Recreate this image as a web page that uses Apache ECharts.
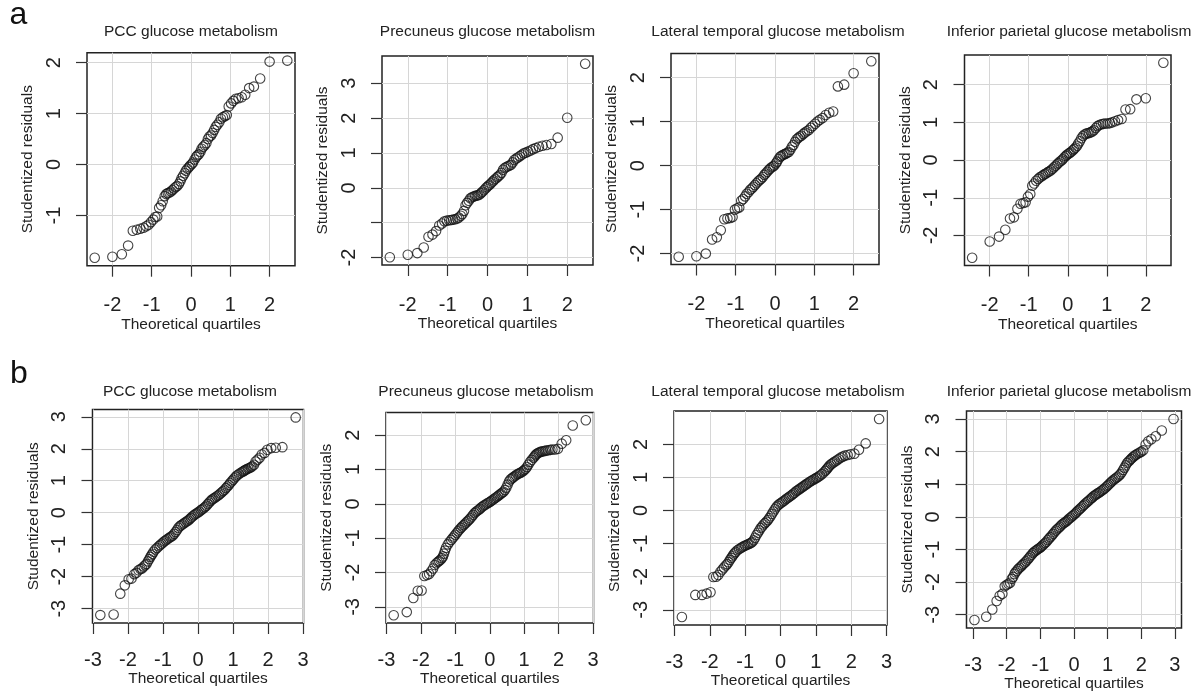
<!DOCTYPE html>
<html>
<head>
<meta charset="utf-8">
<script src="https://cdn.jsdelivr.net/npm/echarts@6.0.0/dist/echarts.min.js"></script>
<style>
  html, body { margin: 0; padding: 0; background: #fff; }
  #chart { width: 1202px; height: 693px; }
</style>
</head>
<body>
<div id="chart"></div>
<script>
// ---- data ----
// row a: theoretical quartiles (shared by the four panels)
const qA = [-2.45, -2.0, -1.76, -1.6, -1.48, -1.38, -1.29, -1.21, -1.14, -1.08, -1.02, -0.96, -0.91, -0.86, -0.81, -0.76, -0.72, -0.67, -0.63, -0.59, -0.55, -0.51, -0.47, -0.43, -0.39, -0.35, -0.31, -0.27, -0.24, -0.2, -0.16, -0.13, -0.09, -0.05, -0.02,
  0.02, 0.05, 0.09, 0.13, 0.16, 0.2, 0.24, 0.27, 0.31, 0.35, 0.39, 0.43, 0.47, 0.51, 0.55, 0.59, 0.63, 0.67, 0.72, 0.76, 0.81, 0.86, 0.91, 0.96, 1.02, 1.08, 1.14, 1.21, 1.29, 1.38, 1.48, 1.6, 1.76, 2.0, 2.45];
// row a: studentized residuals
const pccA = [-1.83, -1.81, -1.76, -1.59, -1.30, -1.28, -1.26, -1.24, -1.21, -1.18, -1.13, -1.08, -1.03, -1.02, -0.85, -0.80, -0.72, -0.62, -0.58, -0.56, -0.55, -0.53, -0.50, -0.47, -0.44, -0.42, -0.38, -0.33, -0.27, -0.22, -0.17, -0.12, -0.08, -0.05, -0.02,
  0.01, 0.04, 0.10, 0.15, 0.18, 0.20, 0.25, 0.31, 0.35, 0.38, 0.42, 0.50, 0.55, 0.57, 0.62, 0.68, 0.74, 0.78, 0.83, 0.90, 0.93, 0.95, 0.97, 1.14, 1.20, 1.25, 1.29, 1.30, 1.32, 1.37, 1.50, 1.53, 1.69, 2.02, 2.04];
const precA = [-1.99, -1.92, -1.87, -1.71, -1.40, -1.34, -1.24, -1.08, -1.02, -0.96, -0.94, -0.93, -0.92, -0.91, -0.90, -0.88, -0.85, -0.80, -0.75, -0.66, -0.50, -0.43, -0.37, -0.30, -0.27, -0.25, -0.23, -0.22, -0.21, -0.19, -0.15, -0.11, -0.07, -0.02, 0.02,
  0.06, 0.09, 0.13, 0.18, 0.22, 0.26, 0.30, 0.33, 0.37, 0.43, 0.52, 0.57, 0.60, 0.62, 0.64, 0.66, 0.73, 0.80, 0.84, 0.87, 0.91, 0.95, 0.99, 1.01, 1.04, 1.07, 1.11, 1.14, 1.18, 1.21, 1.23, 1.26, 1.44, 2.01, 3.56];
const latA = [-2.07, -2.06, -2.00, -1.68, -1.63, -1.47, -1.22, -1.20, -1.19, -1.17, -1.00, -0.97, -0.95, -0.80, -0.76, -0.70, -0.64, -0.60, -0.55, -0.52, -0.48, -0.44, -0.40, -0.36, -0.33, -0.30, -0.26, -0.21, -0.18, -0.14, -0.10, -0.07, -0.04, -0.02, 0.00,
  0.05, 0.09, 0.15, 0.20, 0.22, 0.24, 0.26, 0.27, 0.29, 0.31, 0.36, 0.43, 0.47, 0.54, 0.60, 0.63, 0.66, 0.68, 0.72, 0.75, 0.78, 0.81, 0.86, 0.90, 0.95, 1.00, 1.04, 1.08, 1.15, 1.20, 1.23, 1.80, 1.84, 2.10, 2.37];
const infA = [-2.59, -2.16, -2.03, -1.85, -1.55, -1.52, -1.29, -1.16, -1.14, -1.12, -0.97, -0.90, -0.68, -0.62, -0.55, -0.50, -0.46, -0.43, -0.40, -0.37, -0.35, -0.32, -0.30, -0.27, -0.23, -0.19, -0.15, -0.11, -0.08, -0.04, -0.01, 0.02, 0.07, 0.11, 0.14,
  0.17, 0.19, 0.22, 0.26, 0.29, 0.33, 0.38, 0.44, 0.50, 0.58, 0.64, 0.68, 0.70, 0.71, 0.72, 0.74, 0.76, 0.79, 0.85, 0.90, 0.93, 0.95, 0.96, 0.97, 0.97, 0.98, 1.00, 1.03, 1.06, 1.09, 1.34, 1.35, 1.61, 1.64, 2.58];

// row b: theoretical quartiles for the first three panels
const qB = [-2.79, -2.41, -2.22, -2.09, -1.98, -1.9, -1.82, -1.76, -1.7, -1.645, -1.6, -1.55, -1.51, -1.47, -1.43, -1.39, -1.36, -1.33, -1.3, -1.27, -1.22, -1.17, -1.12, -1.08, -1.04, -1.0, -0.96, -0.92, -0.88, -0.84, -0.8, -0.76, -0.72, -0.68, -0.64, -0.6, -0.56, -0.52, -0.48, -0.44, -0.4, -0.36, -0.32, -0.28, -0.24, -0.2, -0.16, -0.12, -0.08, -0.04,
  0,
  0.04, 0.08, 0.12, 0.16, 0.2, 0.24, 0.28, 0.32, 0.36, 0.4, 0.44, 0.48, 0.52, 0.56, 0.6, 0.64, 0.68, 0.72, 0.76, 0.8, 0.84, 0.88, 0.92, 0.96, 1.0, 1.04, 1.08, 1.12, 1.17, 1.22, 1.27, 1.3, 1.33, 1.36, 1.39, 1.43, 1.47, 1.51, 1.55, 1.6, 1.645, 1.7, 1.76, 1.82, 1.9, 1.98, 2.09, 2.22, 2.41, 2.79];
const pccB = [-3.20, -3.18, -2.53, -2.27, -2.08, -2.06, -1.92, -1.88, -1.80, -1.76, -1.74, -1.68, -1.64, -1.60, -1.52, -1.45, -1.38, -1.33, -1.28, -1.22, -1.15, -1.10, -1.05, -1.01, -0.97, -0.93, -0.89, -0.86, -0.83, -0.80, -0.77, -0.74, -0.71, -0.66, -0.60, -0.54, -0.47, -0.42, -0.39, -0.36, -0.33, -0.30, -0.27, -0.24, -0.20, -0.16, -0.12, -0.08, -0.05, -0.02,
  0.01,
  0.04, 0.08, 0.11, 0.14, 0.18, 0.22, 0.27, 0.32, 0.37, 0.41, 0.44, 0.47, 0.50, 0.53, 0.56, 0.60, 0.64, 0.68, 0.72, 0.77, 0.82, 0.87, 0.93, 0.98, 1.03, 1.08, 1.13, 1.17, 1.21, 1.25, 1.28, 1.30, 1.32, 1.34, 1.36, 1.38, 1.40, 1.42, 1.45, 1.50, 1.60, 1.66, 1.72, 1.82, 1.87, 1.97, 2.02, 2.03, 2.05, 2.98];
const precB = [-3.24, -3.15, -2.74, -2.53, -2.52, -2.10, -2.07, -2.04, -1.96, -1.88, -1.78, -1.73, -1.69, -1.66, -1.63, -1.58, -1.53, -1.45, -1.36, -1.28, -1.18, -1.11, -1.05, -1.00, -0.95, -0.90, -0.85, -0.80, -0.75, -0.70, -0.66, -0.62, -0.58, -0.54, -0.50, -0.46, -0.42, -0.37, -0.32, -0.27, -0.23, -0.20, -0.17, -0.14, -0.10, -0.07, -0.04, -0.02, 0.01, 0.03,
  0.05,
  0.08, 0.11, 0.14, 0.17, 0.20, 0.23, 0.26, 0.29, 0.32, 0.35, 0.40, 0.47, 0.56, 0.65, 0.71, 0.74, 0.77, 0.80, 0.83, 0.86, 0.88, 0.90, 0.92, 0.95, 0.98, 1.02, 1.07, 1.14, 1.22, 1.28, 1.34, 1.38, 1.42, 1.45, 1.47, 1.49, 1.51, 1.52, 1.53, 1.54, 1.55, 1.56, 1.57, 1.58, 1.58, 1.60, 1.75, 1.85, 2.28, 2.43];
const latB = [-3.22, -2.55, -2.55, -2.51, -2.47, -2.01, -2.00, -1.95, -1.85, -1.78, -1.72, -1.66, -1.62, -1.56, -1.49, -1.43, -1.38, -1.33, -1.29, -1.25, -1.20, -1.16, -1.13, -1.10, -1.08, -1.06, -1.04, -1.02, -1.00, -0.98, -0.95, -0.90, -0.82, -0.74, -0.67, -0.60, -0.53, -0.48, -0.42, -0.38, -0.34, -0.29, -0.23, -0.17, -0.10, -0.03, 0.04, 0.10, 0.15, 0.19,
  0.22,
  0.25, 0.28, 0.31, 0.35, 0.38, 0.41, 0.44, 0.47, 0.51, 0.54, 0.58, 0.61, 0.64, 0.67, 0.70, 0.73, 0.76, 0.79, 0.82, 0.85, 0.88, 0.90, 0.93, 0.95, 0.98, 1.00, 1.03, 1.06, 1.10, 1.15, 1.20, 1.24, 1.28, 1.32, 1.36, 1.40, 1.43, 1.46, 1.49, 1.52, 1.56, 1.60, 1.63, 1.66, 1.68, 1.70, 1.72, 1.84, 2.03, 2.77];

// row b, inferior parietal: larger sample, its own quartiles
const qB4 = [-2.96, -2.61, -2.43, -2.3, -2.21, -2.13, -2.06, -2.0, -1.95, -1.9, -1.85, -1.81, -1.77, -1.74, -1.7, -1.66, -1.62, -1.58, -1.54, -1.5, -1.46, -1.42, -1.38, -1.34, -1.3, -1.26, -1.22, -1.18, -1.14, -1.1, -1.06, -1.02, -0.98, -0.94, -0.9, -0.86, -0.82, -0.78, -0.74, -0.7, -0.66, -0.62, -0.58, -0.54, -0.5, -0.46, -0.42, -0.38, -0.34, -0.3, -0.26, -0.22, -0.18, -0.14, -0.1, -0.06, -0.02,
  0.02, 0.06, 0.1, 0.14, 0.18, 0.22, 0.26, 0.3, 0.34, 0.38, 0.42, 0.46, 0.5, 0.54, 0.58, 0.62, 0.66, 0.7, 0.74, 0.78, 0.82, 0.86, 0.9, 0.94, 0.98, 1.02, 1.06, 1.1, 1.14, 1.18, 1.22, 1.26, 1.3, 1.34, 1.38, 1.42, 1.46, 1.5, 1.54, 1.58, 1.62, 1.66, 1.7, 1.74, 1.77, 1.81, 1.85, 1.9, 1.95, 2.0, 2.06, 2.13, 2.21, 2.3, 2.43, 2.61, 2.96];
const infB = [-3.16, -3.06, -2.84, -2.58, -2.42, -2.36, -2.13, -2.08, -2.05, -2.02, -1.90, -1.84, -1.75, -1.70, -1.65, -1.60, -1.56, -1.52, -1.48, -1.44, -1.40, -1.36, -1.31, -1.26, -1.21, -1.16, -1.11, -1.07, -1.04, -1.01, -0.98, -0.95, -0.92, -0.88, -0.84, -0.80, -0.76, -0.71, -0.66, -0.62, -0.57, -0.52, -0.47, -0.42, -0.38, -0.34, -0.30, -0.26, -0.22, -0.19, -0.16, -0.13, -0.09, -0.05, -0.02, 0.02, 0.05,
  0.09, 0.13, 0.17, 0.21, 0.25, 0.29, 0.33, 0.37, 0.41, 0.45, 0.48, 0.52, 0.56, 0.59, 0.63, 0.66, 0.69, 0.72, 0.74, 0.77, 0.80, 0.83, 0.86, 0.90, 0.94, 0.98, 1.02, 1.06, 1.10, 1.14, 1.17, 1.20, 1.23, 1.27, 1.31, 1.37, 1.44, 1.51, 1.58, 1.65, 1.70, 1.74, 1.78, 1.82, 1.85, 1.88, 1.91, 1.94, 1.97, 2.00, 2.04, 2.22, 2.32, 2.38, 2.47, 2.65, 3.00];

const titles = ['PCC glucose metabolism', 'Precuneus glucose metabolism',
  'Lateral temporal glucose metabolism', 'Inferior parietal glucose metabolism'];
const xTicksA = [-2, -1, 0, 1, 2];
const xTicksB = [-3, -2, -1, 0, 1, 2, 3];

// ---- layout (pixels) ----
const FONT = '"Liberation Sans", Arial, Helvetica, sans-serif';
const INK = '#222';

const panels = [
  // row a
  { box: [87, 52.7, 208, 213], tx: 191, ty: 32, q: qA, r: pccA, title: 0, xt: xTicksA, yt: [-1, 0, 1, 2], yl: [-1, 0, 1, 2], row: 'a' },
  { box: [382, 56, 211, 209], tx: 487.5, ty: 32, q: qA, r: precA, title: 1, xt: xTicksA, yt: [-2, -1, 0, 1, 2, 3], yl: [-2, 0, 1, 2, 3], row: 'a' },
  { box: [671, 53.5, 208, 211], tx: 778, ty: 32, q: qA, r: latA, title: 2, xt: xTicksA, yt: [-2, -1, 0, 1, 2], yl: [-2, -1, 0, 1, 2], row: 'a' },
  { box: [964.5, 55, 206.5, 210.5], tx: 1069, ty: 32, q: qA, r: infA, title: 3, xt: xTicksA, yt: [-2, -1, 0, 1, 2], yl: [-2, -1, 0, 1, 2], row: 'a' },
  // row b
  { box: [92.5, 409.5, 211, 213.5], tx: 190, ty: 392, q: qB, r: pccB, title: 0, xt: xTicksB, yt: [-3, -2, -1, 0, 1, 2, 3], yl: [-3, -2, -1, 0, 1, 2, 3], row: 'b' },
  { box: [386, 412.5, 207.5, 210.5], tx: 486, ty: 392, q: qB, r: precB, title: 1, xt: xTicksB, yt: [-3, -2, -1, 0, 1, 2], yl: [-3, -2, -1, 0, 1, 2], row: 'b' },
  { box: [674, 411, 213, 214], tx: 778, ty: 392, q: qB, r: latB, title: 2, xt: xTicksB, yt: [-3, -2, -1, 0, 1, 2], yl: [-3, -2, -1, 0, 1, 2], row: 'b' },
  { box: [966.5, 411, 215, 217], tx: 1069, ty: 392, q: qB4, r: infB, title: 3, xt: xTicksB, yt: [-3, -2, -1, 0, 1, 2, 3], yl: [-3, -2, -1, 0, 1, 2, 3], row: 'b' }
];
const rowStyle = {
  a: { xLabelMargin: 30, xNameGap: 49 },
  b: { xLabelMargin: 27, xNameGap: 45 }
};

// R-style axis range: data range widened by 4% on each side
function padRange(v) {
  const lo = Math.min(...v), hi = Math.max(...v), d = (hi - lo) * 0.04;
  return [lo - d, hi + d];
}

const chart = echarts.init(document.getElementById('chart'), null, { renderer: 'canvas' });

const grid = [], xAxis = [], yAxis = [], series = [], graphic = [];

panels.forEach((p, i) => {
  const rs = rowStyle[p.row];
  const xr = padRange(p.q), yr = padRange(p.r);
  grid.push({
    left: p.box[0], top: p.box[1], width: p.box[2], height: p.box[3],
    show: true, borderColor: '#222', borderWidth: 1.5,
    backgroundColor: 'rgba(0,0,0,0)', containLabel: false, outerBoundsMode: 'none'
  });
  xAxis.push({
    type: 'value', gridIndex: i, min: xr[0], max: xr[1],
    axisLine: { show: false, onZero: false },
    axisTick: { show: true, customValues: p.xt, length: 11, lineStyle: { color: '#333', width: 1.2 } },
    axisLabel: { customValues: p.xt, margin: rs.xLabelMargin, fontSize: 20, color: INK, fontFamily: FONT },
    splitLine: { show: true, lineStyle: { color: '#d6d6d6', width: 1 } },
    name: 'Theoretical quartiles', nameLocation: 'middle', nameGap: rs.xNameGap,
    nameTextStyle: { fontSize: 15.5, color: INK, fontFamily: FONT }
  });
  yAxis.push({
    type: 'value', gridIndex: i, min: yr[0], max: yr[1],
    axisLine: { show: false, onZero: false },
    axisTick: { show: true, customValues: p.yt, length: 11, lineStyle: { color: '#333', width: 1.2 } },
    axisLabel: { customValues: p.yl, rotate: 90, margin: 23, fontSize: 20, color: INK, fontFamily: FONT },
    splitLine: { show: true, lineStyle: { color: '#d6d6d6', width: 1 } },
    name: 'Studentized residuals', nameLocation: 'middle', nameGap: 51, nameRotate: 90,
    nameTextStyle: { fontSize: 15.5, color: INK, fontFamily: FONT }
  });
  series.push({
    type: 'scatter', xAxisIndex: i, yAxisIndex: i,
    data: p.q.map((x, k) => [x, p.r[k]]),
    symbol: 'circle', symbolSize: 9.5,
    itemStyle: { color: 'rgba(255,255,255,0)', borderColor: '#151515', borderWidth: 1.1 },
    emphasis: { disabled: true }, silent: true, clip: false
  });
  graphic.push({
    type: 'text', x: p.tx, y: p.ty, silent: true,
    style: { text: titles[p.title], fontSize: 15.5, fontFamily: FONT, fill: INK, align: 'center', verticalAlign: 'middle' }
  });
});

// panel letters
graphic.push({ type: 'text', x: 18.5, y: 15.5, silent: true,
  style: { text: 'a', fontSize: 32, fontFamily: FONT, fill: '#111', align: 'center', verticalAlign: 'middle' } });
graphic.push({ type: 'text', x: 19, y: 374, silent: true,
  style: { text: 'b', fontSize: 32, fontFamily: FONT, fill: '#111', align: 'center', verticalAlign: 'middle' } });

chart.setOption({
  backgroundColor: '#fff',
  animation: false,
  grid: grid,
  xAxis: xAxis,
  yAxis: yAxis,
  series: series,
  graphic: graphic
});
</script>
</body>
</html>
